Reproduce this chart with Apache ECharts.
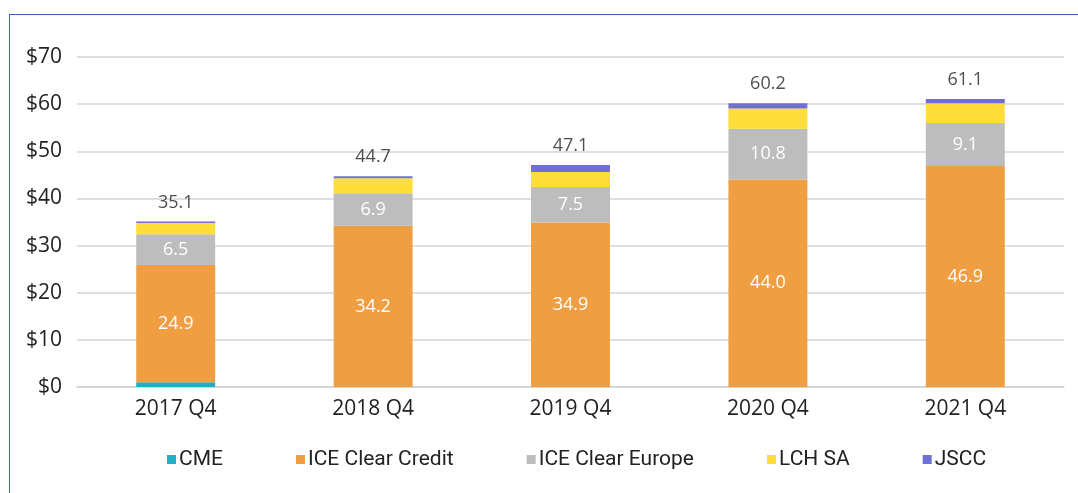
<!DOCTYPE html>
<html>
<head>
<meta charset="utf-8">
<script src="https://cdn.jsdelivr.net/npm/echarts@6/dist/echarts.min.js"></script>
<style>
  html, body { margin: 0; padding: 0; background: #fff; }
  #chart { width: 1078px; height: 493px; }
  #frame { position: absolute; left: 9px; top: 14px; width: 1069px; height: 479px;
           border-left: 1.5px solid #3d68b8; border-top: 1.5px solid #3d68b8; pointer-events: none; }
</style>
</head>
<body>
<div id="chart"></div>
<div id="frame"></div>
<script>
var quarters = ['2017 Q4', '2018 Q4', '2019 Q4', '2020 Q4', '2021 Q4'];
var cme = [1.0, 0, 0, 0, 0];
var iceCredit = [24.9, 34.2, 34.9, 44.0, 46.9];
var iceEurope = [6.5, 6.9, 7.5, 10.8, 9.1];
var lchSa = [2.4, 3.2, 3.2, 4.3, 4.2];
var jscc = [0.3, 0.4, 1.5, 1.1, 0.9];
var totals = [35.1, 44.7, 47.1, 60.2, 61.1];

var font = 'Open Sans';
var legendFont = 'Roboto';
var myChart = echarts.init(document.getElementById('chart'));

function stackBar(name, data, color, showLabel) {
  return {
    name: name,
    type: 'bar',
    stack: 'all',
    barWidth: '40%',
    data: data,
    itemStyle: { color: color },
    label: {
      show: showLabel,
      position: 'inside',
      color: '#fff',
      fontFamily: font,
      fontSize: 18,
      formatter: function (p) { return p.value.toFixed(1); }
    }
  };
}

myChart.setOption({
  animation: false,
  grid: { left: 77, right: 14, top: 57, bottom: 106 },
  legend: {
    bottom: 18,
    left: 162,
    itemWidth: 9,
    itemHeight: 9,
    itemGap: 73,
    icon: 'rect',
    textStyle: { fontFamily: legendFont, fontSize: 21, color: '#222', padding: [0, 0, 0, -2] },
    data: ['CME', 'ICE Clear Credit', 'ICE Clear Europe', 'LCH SA', 'JSCC']
  },
  xAxis: {
    type: 'category',
    data: quarters,
    axisLine: { lineStyle: { color: '#d4d4d4', width: 1.5 } },
    axisTick: { show: false },
    axisLabel: { fontFamily: font, fontSize: 21, color: '#222', margin: 12 }
  },
  yAxis: {
    type: 'value',
    min: 0,
    max: 70,
    interval: 10,
    axisLine: { show: false },
    axisTick: { show: false },
    splitLine: { lineStyle: { color: '#d4d4d4', width: 1.5 } },
    axisLabel: {
      fontFamily: font, fontSize: 21, color: '#222', margin: 15,
      formatter: function (v) { return '$' + v; }
    }
  },
  series: [
    stackBar('CME', cme, '#1fb0c8', false),
    stackBar('ICE Clear Credit', iceCredit, '#f09e42', true),
    stackBar('ICE Clear Europe', iceEurope, '#bdbdbd', true),
    stackBar('LCH SA', lchSa, '#ffdd3a', false),
    stackBar('JSCC', jscc, '#6f6fd7', false),
    {
      name: 'Total',
      type: 'scatter',
      data: totals,
      symbolSize: 0,
      silent: true,
      label: {
        show: true,
        position: 'top',
        distance: 10,
        color: '#222',
        fontFamily: font,
        fontSize: 18,
        formatter: function (p) { return p.value.toFixed(1); }
      }
    }
  ]
});
</script>
</body>
</html>
